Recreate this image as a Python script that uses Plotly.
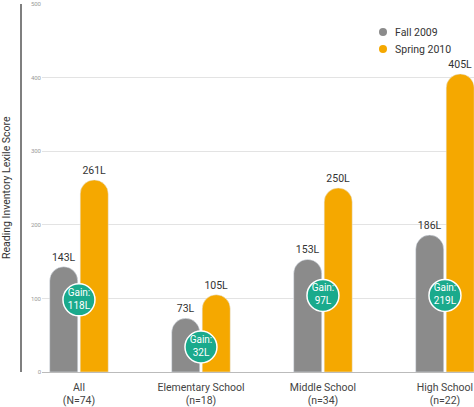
import plotly.graph_objects as go

categories = ["All<br>(N=74)", "Elementary School<br>(n=18)", "Middle School<br>(n=34)", "High School<br>(n=22)"]
fall_2009 = [143, 73, 153, 186]
spring_2010 = [261, 105, 250, 405]
gain_badge_y = [98, 34, 104, 104]
y_ticks = [0, 100, 200, 300, 400, 500]
series_names = ["Fall 2009", "Spring 2010"]

FONT = "Roboto, sans-serif"
GRAY = "#8b8b8b"
ORANGE = "#f5a800"
TEAL = "#1aaa8c"

gains = [s - f for s, f in zip(spring_2010, fall_2009)]

fig = go.Figure()
fig.add_trace(go.Bar(x=categories, y=fall_2009, name=series_names[0], marker=dict(color=GRAY, cornerradius="50%"),
                     text=[f"{v}L" for v in fall_2009], textposition="outside", cliponaxis=False,
                     textfont=dict(color="#333", size=10.5, family=FONT), showlegend=False))
fig.add_trace(go.Bar(x=categories, y=spring_2010, name=series_names[1], marker=dict(color=ORANGE, cornerradius="50%"),
                     text=[f"{v}L" for v in spring_2010], textposition="outside", cliponaxis=False,
                     textfont=dict(color="#333", size=10.5, family=FONT), showlegend=False))
fig.add_trace(go.Scatter(x=categories, y=gain_badge_y, mode="markers+text",
                         marker=dict(size=32, color=TEAL, line=dict(color="white", width=1.5)),
                         text=[f"Gain:<br>{g}L" for g in gains], textposition="middle center",
                         textfont=dict(color="white", size=10, family=FONT), showlegend=False,
                         cliponaxis=False, hoverinfo="skip"))

# legend drawn as circles + text (paper coords); plot area x:42..474, y:4..372
W, H = 432.0, 368.0
def px(x): return (x - 42) / W
def py(y): return (372 - y) / H

shapes = [dict(type="line", xref="paper", yref="paper", x0=px(21), x1=px(21), y0=0, y1=1,
               line=dict(color="#555", width=1.5))]
annotations = [dict(text="Reading Inventory Lexile Score", xref="paper", yref="paper", x=px(6), y=0.5,
                    textangle=-90, showarrow=False, xanchor="center", yanchor="middle",
                    font=dict(size=10.5, color="#333", family=FONT))]
for i, (name, col) in enumerate(zip(series_names, [GRAY, ORANGE])):
    cy = 32 + 17 * i
    shapes.append(dict(type="circle", xref="paper", yref="paper", x0=px(379), x1=px(387),
                       y0=py(cy + 4), y1=py(cy - 4), fillcolor=col, line=dict(width=0)))
    annotations.append(dict(text=name, xref="paper", yref="paper", x=px(393), y=py(cy), xanchor="left",
                            yanchor="middle", showarrow=False, font=dict(size=10.5, color="#333", family=FONT)))

fig.update_layout(
    width=474, height=407,
    margin=dict(l=42, r=0, t=4, b=35),
    plot_bgcolor="white", paper_bgcolor="white",
    barmode="group", bargap=0.5, bargroupgap=0.08,
    font=dict(family=FONT, color="#333"),
    showlegend=False,
    xaxis=dict(range=[-0.303, 3.238], showgrid=False, tickfont=dict(size=10.5, color="#444", family=FONT),
               showline=False, ticks="", automargin=False, ticklabelstandoff=7),
    yaxis=dict(range=[0, 500], tickvals=y_ticks, showgrid=True, gridcolor="#e3e3e3", gridwidth=1,
               zeroline=True, zerolinecolor="#bbbbbb", zerolinewidth=1, automargin=False,
               tickfont=dict(size=6, color="#999", family=FONT), ticks=""),
    shapes=shapes,
    annotations=annotations,
)

fig.write_html("out.html", config={"displayModeBar": False},
               post_script="document.body.style.margin='0';document.body.style.overflow='hidden';")
